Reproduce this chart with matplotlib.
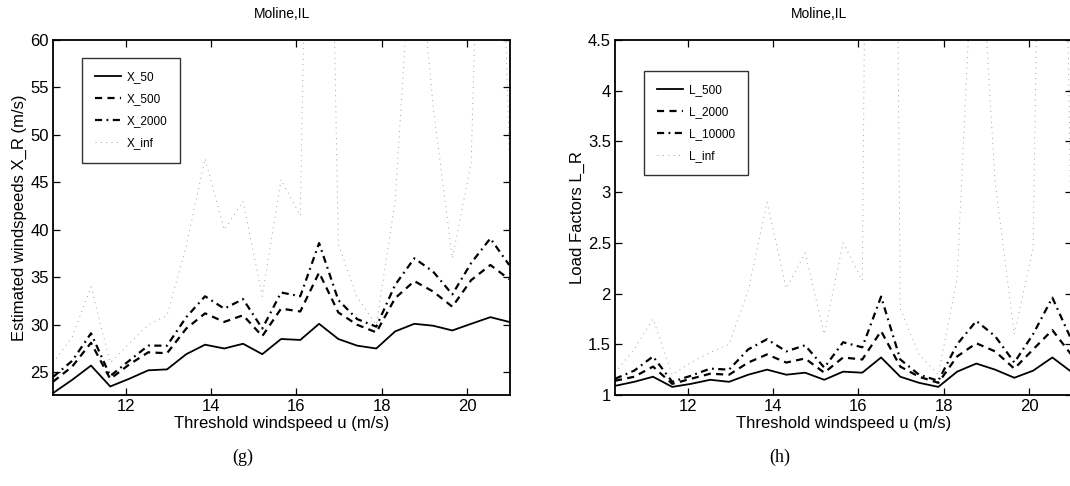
import matplotlib
matplotlib.use('Agg')
import matplotlib.pyplot as plt

plt.rcParams['font.family'] = ['Liberation Sans', 'DejaVu Sans']

# Threshold windspeed u (m/s)
u = [10.30, 10.75, 11.19, 11.64, 12.08, 12.53, 12.97, 13.42, 13.86, 14.31,
     14.75, 15.20, 15.64, 16.09, 16.53, 16.98, 17.42, 17.87, 18.31, 18.76,
     19.20, 19.65, 20.09, 20.54, 20.98]

# Estimated windspeeds X_R (m/s)
x_50 = [22.8, 24.2, 25.7, 23.5, 24.3, 25.2, 25.3, 26.9, 27.9, 27.5,
        28.0, 26.9, 28.5, 28.4, 30.1, 28.5, 27.8, 27.5, 29.3, 30.1,
        29.9, 29.4, 30.1, 30.8, 30.3]
x_500 = [24.0, 25.6, 28.1, 24.3, 25.8, 27.1, 27.0, 29.6, 31.2, 30.3,
         31.0, 28.8, 31.7, 31.4, 35.5, 31.3, 30.0, 29.2, 32.8, 34.6,
         33.5, 31.9, 34.7, 36.3, 34.8]
x_2000 = [24.5, 26.2, 29.1, 24.6, 26.2, 27.8, 27.8, 30.8, 33.0, 31.7,
          32.7, 29.6, 33.4, 33.0, 38.6, 32.6, 30.6, 29.8, 34.2, 37.0,
          35.6, 33.2, 36.5, 39.1, 36.3]
x_inf = [26.0, 28.7, 34.0, 26.0, 28.0, 30.0, 31.0, 38.3, 47.5, 40.0,
         43.0, 33.0, 45.3, 41.5, 150.0, 38.5, 32.9, 30.0, 43.0, 75.0,
         53.0, 37.0, 47.0, 120.0, 48.0]

# Load factors L_R
l_500 = [1.09, 1.13, 1.18, 1.08, 1.11, 1.15, 1.13, 1.20, 1.25, 1.20,
         1.22, 1.15, 1.23, 1.22, 1.37, 1.18, 1.12, 1.08, 1.23, 1.31,
         1.25, 1.17, 1.24, 1.37, 1.23]
l_2000 = [1.14, 1.18, 1.28, 1.11, 1.16, 1.21, 1.20, 1.32, 1.40, 1.32,
          1.36, 1.22, 1.37, 1.35, 1.63, 1.28, 1.18, 1.12, 1.38, 1.51,
          1.43, 1.26, 1.45, 1.64, 1.40]
l_10000 = [1.16, 1.24, 1.38, 1.13, 1.19, 1.26, 1.25, 1.45, 1.55, 1.43,
           1.49, 1.27, 1.52, 1.47, 1.97, 1.35, 1.20, 1.14, 1.50, 1.73,
           1.58, 1.32, 1.60, 1.96, 1.55]
l_inf = [1.22, 1.45, 1.75, 1.20, 1.32, 1.42, 1.50, 2.03, 2.90, 2.05,
         2.40, 1.60, 2.50, 2.13, 24.0, 1.85, 1.40, 1.20, 2.15, 6.2,
         3.10, 1.60, 2.45, 15.0, 2.50]

left_ticks_x = [12, 14, 16, 18, 20]
left_ticks_y = [25, 30, 35, 40, 45, 50, 55, 60]
right_ticks_y = [1, 1.5, 2, 2.5, 3, 3.5, 4, 4.5]
right_tick_labels = ['1', '1.5', '2', '2.5', '3', '3.5', '4', '4.5']

W, H = 1070, 486
fig = plt.figure(figsize=(W / 100, H / 100), dpi=100)
axL = fig.add_axes([53 / W, 1 - 395 / H, 457 / W, 355 / H])
axR = fig.add_axes([615 / W, 1 - 395 / H, 457 / W, 355 / H])

solid = dict(color='black', lw=1.3, linestyle='-')
dashed = dict(color='black', lw=1.6, linestyle=(0, (3.2, 2.4)))
dashdot = dict(color='black', lw=1.6, linestyle=(0, (3.2, 2.0, 0.8, 2.0)))
dotted = dict(color='0.62', lw=0.7, linestyle=(0, (1, 4.5)))

axL.plot(u, x_50, label='X_50', **solid)
axL.plot(u, x_500, label='X_500', **dashed)
axL.plot(u, x_2000, label='X_2000', **dashdot)
axL.plot(u, x_inf, label='X_inf', **dotted)
axL.set_xlim(10.3, 21.0)
axL.set_ylim(22.6, 60)
axL.set_xticks(left_ticks_x)
axL.set_yticks(left_ticks_y)
axL.set_xlabel('Threshold windspeed u (m/s)', fontsize=12, labelpad=1)
axL.set_ylabel('Estimated windspeeds X_R (m/s)', fontsize=12, labelpad=2)

axR.plot(u, l_500, label='L_500', **solid)
axR.plot(u, l_2000, label='L_2000', **dashed)
axR.plot(u, l_10000, label='L_10000', **dashdot)
axR.plot(u, l_inf, label='L_inf', **dotted)
axR.set_xlim(10.3, 21.0)
axR.set_ylim(1, 4.5)
axR.set_xticks(left_ticks_x)
axR.set_yticks(right_ticks_y)
axR.set_yticklabels(right_tick_labels)
axR.set_xlabel('Threshold windspeed u (m/s)', fontsize=12, labelpad=1)
axR.set_ylabel('Load Factors L_R', fontsize=12, labelpad=2)

for ax in (axL, axR):
    ax.tick_params(direction='in', top=True, right=True, length=5, width=0.9,
                   labelsize=12, pad=3)
    for sp in ax.spines.values():
        sp.set_linewidth(1.3)

leg_kw = dict(loc='upper left', fontsize=8.5, frameon=True, fancybox=False,
              edgecolor='black', handlelength=2.2, borderpad=1.1,
              labelspacing=0.85, handletextpad=0.5, borderaxespad=0)
legL = axL.legend(bbox_to_anchor=(0.063, 0.948), **leg_kw)
legL.get_frame().set_linewidth(1.0)
legR = axR.legend(bbox_to_anchor=(0.064, 0.913), **leg_kw)
legR.get_frame().set_linewidth(1.0)

fig.text(282 / W, 1 - 14 / H, 'Moline,IL', ha='center', va='center', fontsize=10)
fig.text(819 / W, 1 - 14 / H, 'Moline,IL', ha='center', va='center', fontsize=10)
fig.text(243 / W, 1 - 457 / H, '(g)', ha='center', va='center', fontsize=13,
         family=['Liberation Serif', 'DejaVu Serif'])
fig.text(780 / W, 1 - 457 / H, '(h)', ha='center', va='center', fontsize=13,
         family=['Liberation Serif', 'DejaVu Serif'])

fig.savefig('out.png', dpi=100)
